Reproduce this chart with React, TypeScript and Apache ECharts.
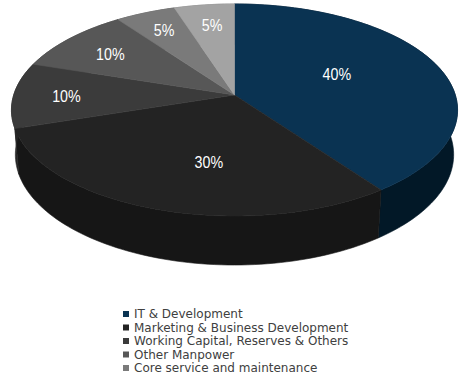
import React, { useEffect, useRef } from "react";
import * as echarts from "echarts";

const categories = [
  "IT & Development",
  "Marketing & Business Development",
  "Working Capital, Reserves & Others",
  "Other Manpower",
  "Core service and maintenance",
  "Unlisted",
];
const shares = [40, 30, 10, 10, 5, 5];
const legendNames = categories.slice(0, 5);

const topColors = ["#0a3352", "#232323", "#3b3b3b", "#575757", "#7a7a7a", "#a3a3a3"];
const sideColors = ["#021827", "#161616", "#262626", "#3a3a3a", "#555555", "#777777"];

// label placement tweaks (radius fraction, angle offset in degrees)
const labelRadius = [0.52, 0.6, 0.76, 0.73, 0.765, 0.75];
const labelTurn = [5.5, 7.8, 0.7, 0.7, 0.2, -0.4];

// perspective camera
const CX = 234.5, CY = 95, F = 1377, D = 6.236, SIN = 0.4706, COS = 0.8824, T = 0.231;

function proj(x: number, y: number, z: number): number[] {
  const depth = D - y * SIN + z * COS;
  const up = y * COS + z * SIN;
  return [CX + (F * x) / depth, CY - (F * up) / depth];
}

function arc(a1: number, a2: number, y: number): number[][] {
  const n = Math.max(2, Math.ceil(Math.abs(a1 - a2) / 1.5));
  const pts: number[][] = [];
  for (let k = 0; k <= n; k++) {
    const a = ((a1 + ((a2 - a1) * k) / n) * Math.PI) / 180;
    pts.push(proj(Math.cos(a), y, Math.sin(a)));
  }
  return pts;
}

function sliceAngles(values: number[], i: number): number[] {
  const total = values.reduce((s, v) => s + v, 0);
  let start = 90;
  for (let j = 0; j < i; j++) start -= (values[j] / total) * 360;
  return [start, start - (values[i] / total) * 360];
}

export default function App() {
  const ref = useRef<HTMLDivElement>(null);
  useEffect(() => {
    if (!ref.current) return;
    const chart = echarts.init(ref.current, null, { renderer: "svg" });
    const sideItem = (params: any, api: any) => {
      const i = params.dataIndex;
      const vals = shares.map((_, j) => (j === i ? api.value(0) : shares[j]));
      const [a1, a2] = sliceAngles(vals, i);
      const top = arc(a1, a2, 0);
      const bottom = arc(a1, a2, -T).reverse();
      return {
        type: "polygon",
        shape: { points: top.concat(bottom) },
        style: { fill: sideColors[i], stroke: sideColors[i], lineWidth: 0.6 },
      };
    };
    const topItem = (params: any, api: any) => {
      const i = params.dataIndex;
      const v = api.value(0);
      const vals = shares.map((_, j) => (j === i ? v : shares[j]));
      const [a1, a2] = sliceAngles(vals, i);
      const pts = [proj(0, 0, 0)].concat(arc(a1, a2, 0));
      const mid = (((a1 + a2) / 2 + labelTurn[i]) * Math.PI) / 180;
      const r = labelRadius[i];
      const lp = proj(r * Math.cos(mid), 0, r * Math.sin(mid));
      return {
        type: "group",
        children: [
          {
            type: "polygon",
            shape: { points: pts },
            style: { fill: topColors[i], stroke: topColors[i], lineWidth: 0.6 },
          },
          {
            type: "text",
            x: lp[0],
            y: lp[1],
            scaleX: 0.84,
            style: {
              text: v + "%",
              fill: "#ffffff",
              fontSize: 17,
              fontFamily: '"Liberation Sans", Arial, sans-serif',
              align: "center",
              verticalAlign: "middle",
              textAlign: "center",
              textVerticalAlign: "middle",
            },
          },
        ],
      };
    };
    chart.setOption({
      animation: false,
      backgroundColor: "#ffffff",
      legend: {
        orient: "vertical",
        left: 123,
        top: 304,
        padding: 0,
        itemWidth: 6,
        itemHeight: 6,
        itemGap: -6.5,
        icon: "rect",
        selectedMode: false,
        textStyle: {
          fontFamily: '"DejaVu Sans", Verdana, sans-serif',
          fontSize: 12,
          color: "#404040",
          lineHeight: 12,
          padding: [0, 0, 8, 0],
        },
        data: legendNames,
      },
      series: [
        {
          type: "pie",
          name: "legend",
          center: [-500, -500],
          radius: 1,
          silent: true,
          label: { show: false },
          labelLine: { show: false },
          data: categories.map((c, i) => ({ name: c, value: shares[i], itemStyle: { color: topColors[i] } })),
        },
        {
          type: "custom",
          name: "sides",
          coordinateSystem: "none",
          silent: true,
          renderItem: sideItem,
          data: shares.map((v) => [v]),
        },
        {
          type: "custom",
          name: "tops",
          coordinateSystem: "none",
          silent: true,
          renderItem: topItem,
          data: shares.map((v) => [v]),
        },
      ],
    });
    return () => chart.dispose();
  }, []);
  return (
    <div
      ref={ref}
      style={{ position: "fixed", left: 0, top: 0, width: 467, height: 383 }}
    />
  );
}
